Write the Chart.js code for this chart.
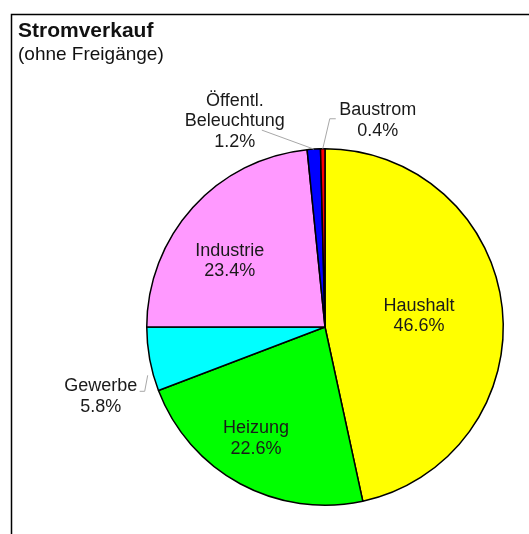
<!DOCTYPE html>
<html>
<head>
<meta charset="utf-8">
<script src="https://cdn.jsdelivr.net/npm/chart.js@4"></script>
<style>
  html, body { margin: 0; padding: 0; background: #fff; overflow: hidden; }
  #wrap { width: 529px; height: 534px; }
</style>
</head>
<body>
<div id="wrap"><canvas id="stromverkauf" width="529" height="534"></canvas></div>
<script>
const categories = ['Haushalt', 'Heizung', 'Gewerbe', 'Industrie', 'Öffentl.\nBeleuchtung', 'Baustrom'];
const shares = [46.6, 22.6, 5.8, 23.4, 1.2, 0.4];
const sliceColors = ['#ffff00', '#00ff00', '#00ffff', '#ff99ff', '#0000ff', '#ff0000'];

// wie die Beschriftung platziert wird (innen: Radiusanteil + Feinversatz, außen: Versatz zum Rand + Linienverlauf)
const labelStyle = [
    { inside: true, r: 0.53, shift: [0, -1] },
    { inside: true, r: 0.73, shift: [-7, -3] },
    { inside: false, text: [-49, 37], path: [[-2, 16], [-5, 32], [-10, 32]] },
    { inside: true, r: 0.645, shift: [-10, 11] },
    { inside: false, text: [-79, -28], path: [[0, 0], [-52, -19]] },
    { inside: false, text: [55, -28], path: [[0, 0], [7, -30], [13, -30]] }
];

const labelPlugin = {
    id: 'labels',
    beforeDraw(chart) {
        const c = chart.ctx;
        c.save();
        c.fillStyle = '#fff';
        c.fillRect(0, 0, chart.width, chart.height);
        c.strokeStyle = '#000';
        c.lineWidth = 1.5;
        c.beginPath();
        c.moveTo(11.5, chart.height + 2);
        c.lineTo(11.5, 14.5);
        c.lineTo(chart.width + 2, 14.5);
        c.stroke();
        c.fillStyle = '#111';
        c.textAlign = 'left';
        c.textBaseline = 'alphabetic';
        c.font = 'bold 21px "Liberation Sans", Arial, sans-serif';
        c.fillText('Stromverkauf', 18, 37);
        c.font = '19px "Liberation Sans", Arial, sans-serif';
        c.fillText('(ohne Freigänge)', 18, 60);
        c.restore();
    },
    afterDraw(chart) {
        const c = chart.ctx;
        const meta = chart.getDatasetMeta(0);
        c.save();
        c.font = '18px "Liberation Sans", Arial, sans-serif';
        c.fillStyle = '#1a1a1a';
        c.textAlign = 'center';
        c.textBaseline = 'middle';
        meta.data.forEach((arc, i) => {
            const p = arc.getProps(['x', 'y', 'startAngle', 'endAngle', 'outerRadius'], true);
            const mid = (p.startAngle + p.endAngle) / 2;
            const st = labelStyle[i];
            const lines = categories[i].split('\n').concat([shares[i].toFixed(1) + '%']);
            let tx, ty;
            if (st.inside) {
                tx = p.x + Math.cos(mid) * p.outerRadius * st.r + st.shift[0];
                ty = p.y + Math.sin(mid) * p.outerRadius * st.r + st.shift[1];
            } else {
                const ax = p.x + Math.cos(mid) * p.outerRadius;
                const ay = p.y + Math.sin(mid) * p.outerRadius;
                c.strokeStyle = '#a8a8a8';
                c.lineWidth = 1;
                c.beginPath();
                st.path.forEach(([dx, dy], k) => {
                    if (k === 0) c.moveTo(ax + dx, ay + dy);
                    else c.lineTo(ax + dx, ay + dy);
                });
                c.stroke();
                tx = ax + st.text[0];
                ty = ay + st.text[1];
            }
            const lh = 20.5;
            const y0 = ty - (lines.length - 1) * lh / 2;
            lines.forEach((t, k) => c.fillText(t, tx, y0 + k * lh));
        });
        c.restore();
    }
};

new Chart(document.getElementById('stromverkauf').getContext('2d'), {
    type: 'pie',
    data: {
        labels: categories,
        datasets: [{
            data: shares,
            backgroundColor: sliceColors,
            borderColor: '#000',
            borderWidth: 1.5
        }]
    },
    options: {
        responsive: false,
        animation: false,
        layout: { padding: { left: 146, right: 25, top: 148, bottom: 28 } },
        plugins: {
            legend: { display: false },
            tooltip: { enabled: false },
            title: { display: false }
        }
    },
    plugins: [labelPlugin]
});
</script>
</body>
</html>
